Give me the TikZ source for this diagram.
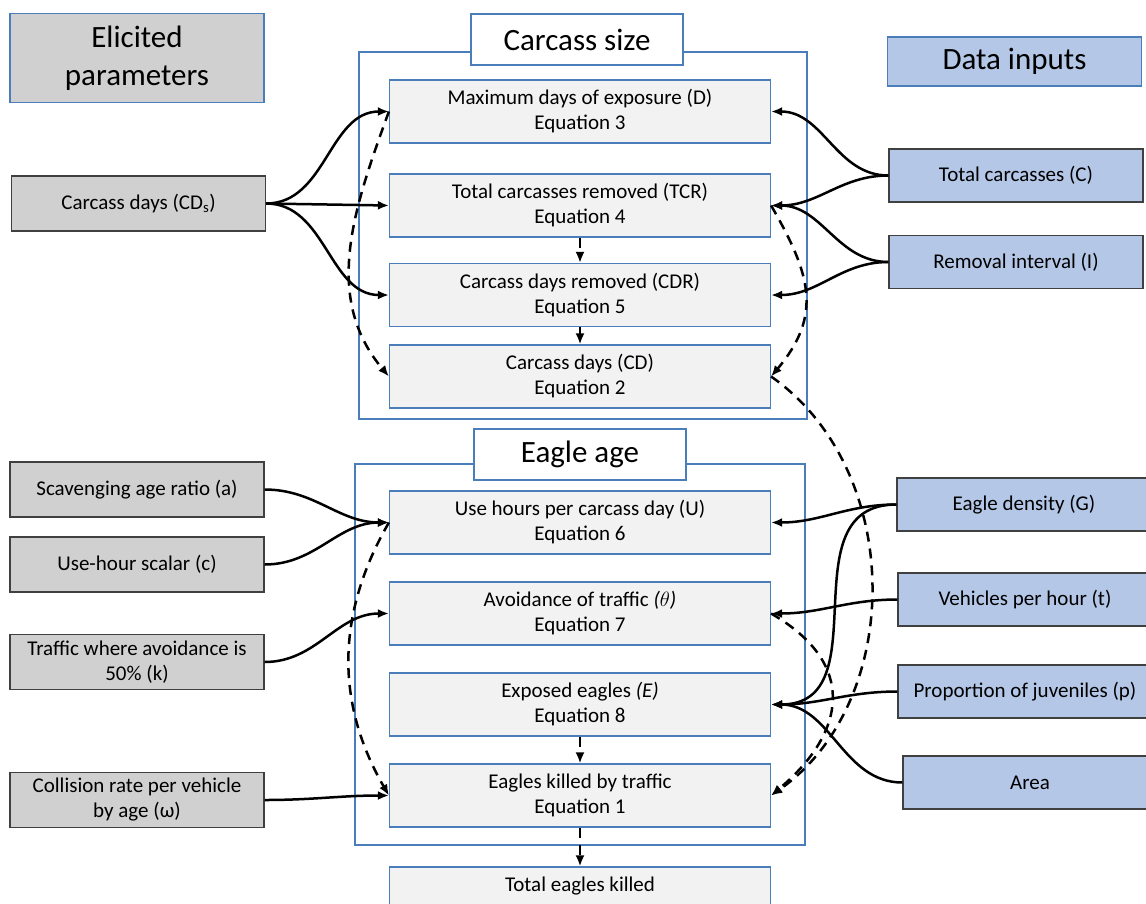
\documentclass[tikz,border=0pt]{standalone}
\usepackage{fontspec}
\setmainfont{Carlito}
\usepackage{tikz}
\usetikzlibrary{arrows.meta}

\definecolor{frameblue}{RGB}{74,126,187}
\definecolor{innergray}{RGB}{242,242,242}
\definecolor{elicgray}{RGB}{208,208,208}
\definecolor{datablue}{RGB}{180,199,231}
\definecolor{darkline}{RGB}{64,64,64}

\newcommand{\normtext}{\fontsize{21}{25}\selectfont}
\newcommand{\bigtext}{\fontsize{31}{38}\selectfont}

\begin{document}
\begin{tikzpicture}[x=1pt, y=1pt,
    eqbox/.style={draw=frameblue, fill=innergray, line width=1.2pt, minimum width=381pt,
      minimum height=63pt, align=center, inner sep=0pt, font=\normtext},
    elbox/.style={draw=darkline, fill=elicgray, line width=1.2pt, minimum width=254pt,
      minimum height=55pt, align=center, inner sep=0pt, font=\normtext},
    databox/.style={draw=darkline, fill=datablue, line width=1.2pt, minimum width=254pt,
      minimum height=53pt, align=center, inner sep=0pt, font=\normtext},
    titlebox/.style={draw=frameblue, fill=white, line width=1.2pt, minimum width=212pt,
      minimum height=51pt, inner sep=0pt, font=\bigtext},
    arr/.style={line width=2.5pt, -{Latex[length=11pt,width=9pt]}},
    darr/.style={arr, dash pattern=on 10pt off 7pt}]
      \useasboundingbox (0,0) rectangle (1146,-903);
      \clip (0,0) rectangle (1146,-903);

      %% Group frames
      \draw[frameblue, line width=1.2pt] (359,-52) rectangle (807,-419);
      \draw[frameblue, line width=1.2pt] (355,-464) rectangle (805,-845);
      \node[titlebox] (CS) at (577,-39.5) {Carcass size};
      \node[titlebox] (EA) at (580,-454.5) {Eagle age};

      %% Equation boxes
      \foreach \nm/\y/\txt in {D/111.5/{Maximum days of exposure (D)\\Equation 3},
          TCR/205.5/{Total carcasses removed (TCR)\\Equation 4},
          CDR/295/{Carcass days removed (CDR)\\Equation 5},
          CD/376.5/{Carcass days (CD)\\Equation 2},
          U/522.5/{Use hours per carcass day (U)\\Equation 6},
          TH/613.5/{Avoidance of traffic \textit{($\theta$)}\\Equation 7},
          E/704.5/{Exposed eagles \textit{(E)}\\Equation 8},
          K/795.5/{Eagles killed by traffic\\Equation 1}}
      {%
        \node[eqbox] (\nm) at (580,-\y) {\txt};
      }
      \node[eqbox] (TE) at (580,-898.5) {Total eagles killed\\\phantom{Equation 1}};

      %% Elicited parameters
      \node[elbox, draw=frameblue, minimum height=89pt, font=\bigtext] (EP) at (137,-58)
        {Elicited\\parameters};
      \node[elbox] (CDs) at (138.5,-203.5) {Carcass days (CD\textsubscript{s})};
      \node[elbox] (SA) at (137,-489.5) {Scavenging age ratio (a)};
      \node[elbox] (UH) at (137,-564.5) {Use-hour scalar (c)};
      \node[elbox] (TW) at (137,-662) {Traffic where avoidance is\\50\% (k)};
      \node[elbox] (CR) at (137,-800) {Collision rate per vehicle\\by age (ω)};

      %% Data inputs
      \node[databox, draw=frameblue, minimum height=49pt, font=\bigtext] (DI) at (1014.5,-61.5)
        {Data inputs};
      \node[databox] (TC) at (1016,-175.5) {Total carcasses (C)};
      \node[databox] (RI) at (1016,-262) {Removal interval (I)};
      \node[databox] (ED) at (1024,-504.5) {Eagle density (G)};
      \node[databox] (VH) at (1025,-599.5) {Vehicles per hour (t)};
      \node[databox] (PJ) at (1025,-691.5) {Proportion of juveniles (p)};
      \node[databox] (AR) at (1030,-782.5) {Area};

      %% Carcass size links
      \draw[arr] (CDs.east) to[out=0, in=180] (D.west);
      \draw[arr] (CDs.east) -- (TCR.west);
      \draw[arr] (CDs.east) to[out=0, in=180] (CDR.west);
      \draw[arr] (TC.west) to[out=180, in=0] (D.east);
      \draw[arr] (TC.west) to[out=180, in=0] (TCR.east);
      \draw[arr] (RI.west) to[out=180, in=0] (TCR.east);
      \draw[arr] (RI.west) to[out=180, in=0] (CDR.east);
      \draw[darr] (TCR) -- (CDR);
      \draw[arr] (CDR) -- (CD);
      \draw[darr] (D.west) to[out=250, in=130] (CD.west);
      \draw[darr] (TCR.east) to[out=-60, in=50, looseness=1.2] (CD.east);
      \draw[darr] (CD.east) to[out=-35, in=35] (K.east);

      %% Eagle age links
      \draw[arr] (SA.east) to[out=0, in=180] (U.west);
      \draw[arr] (UH.east) to[out=0, in=180] (U.west);
      \draw[arr] (TW.east) to[out=0, in=180] (TH.west);
      \draw[arr] (CR.east) to[out=0, in=180] (K.west);
      \draw[arr] (ED.west) to[out=180, in=0] (U.east);
      \draw[arr] (ED.west) to[out=180, in=0, looseness=1.2] (E.east);
      \draw[arr] (VH.west) to[out=180, in=0] (TH.east);
      \draw[arr] (PJ.west) to[out=180, in=0] (E.east);
      \draw[arr] (AR.west) to[out=180, in=0] (E.east);
      \draw[darr] (U.west) to[out=240, in=120] (K.west);
      \draw[darr] (TH.east) to[out=-30, in=40, looseness=1.4] (K.east);
      \draw[darr] (E) -- (K);
      \draw[darr] (K) -- (TE);

    \end{tikzpicture}
\end{document}
